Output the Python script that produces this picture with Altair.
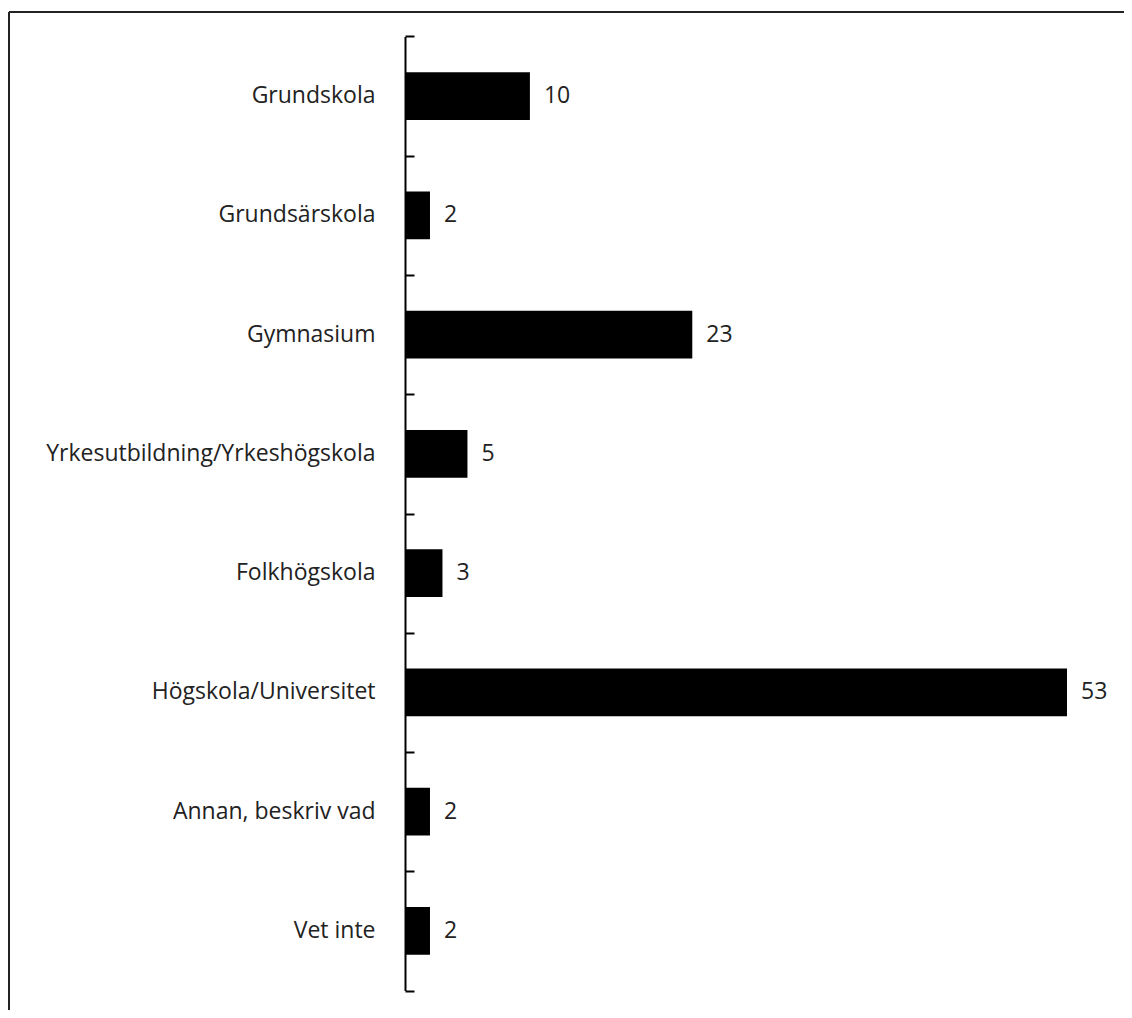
import altair as alt
import pandas as pd

categories = [
    "Grundskola",
    "Grundsärskola",
    "Gymnasium",
    "Yrkesutbildning/Yrkeshögskola",
    "Folkhögskola",
    "Högskola/Universitet",
    "Annan, beskriv vad",
    "Vet inte",
]
values = [10, 2, 23, 5, 3, 53, 2, 2]

df = pd.DataFrame({"cat": categories, "value": values})

FONT = "Open Sans"
TXT = "#222222"
HALF_STEP = 954 / 8 / 2

yscale = alt.Scale(domain=categories, range=[24.5, 978.5], paddingInner=0.6, paddingOuter=0.3)
xscale = alt.Scale(domain=[0, 53], range=[396, 1058], nice=False, zero=True)

base = alt.Chart(df)

bars = base.mark_bar(color="black").encode(
    y=alt.Y("cat:N", scale=yscale, sort=categories,
            axis=alt.Axis(orient="left", offset=-396, title=None, domain=True,
                          domainColor="black", domainWidth=2, ticks=False, tickSize=0,
                          labelPadding=30, labelFont=FONT, labelFontSize=23,
                          labelColor=TXT, labelLimit=500)),
    x=alt.X("value:Q", scale=xscale, axis=None),
)

texts = base.mark_text(align="left", baseline="middle", dx=14, font=FONT,
                       fontSize=23, color=TXT).encode(
    y=alt.Y("cat:N", scale=yscale, sort=categories,
            axis=alt.Axis(orient="left", offset=-405, title=None, domain=False,
                          ticks=True, tickSize=9, tickWidth=2, tickColor="black",
                          tickOffset=-HALF_STEP, labels=False, grid=False)),
    x=alt.X("value:Q", scale=xscale, axis=None),
    text=alt.Text("value:Q"),
)

last_tick = base.mark_point(opacity=0).encode(
    y=alt.Y("cat:N", scale=yscale, sort=categories,
            axis=alt.Axis(orient="left", offset=-405, title=None, domain=False,
                          values=[categories[-1]],
                          ticks=True, tickSize=9, tickWidth=2, tickColor="black",
                          tickOffset=HALF_STEP, labels=False, grid=False)),
    x=alt.X("value:Q", scale=xscale, axis=None),
)

frame_top = alt.Chart(df).mark_rule(color="#222222", strokeWidth=2).encode(
    x=alt.value(0), x2=alt.value(1115), y=alt.value(0)
)
frame_left = alt.Chart(df).mark_rule(color="#222222", strokeWidth=2).encode(
    x=alt.value(0), y=alt.value(0), y2=alt.value(998)
)

chart = alt.layer(frame_top, frame_left, bars, texts, last_tick).resolve_axis(
    y="independent"
).properties(
    width=1115, height=998,
    padding={"left": 1, "top": 4, "right": 0, "bottom": 0},
    autosize=alt.AutoSizeParams(type="none"),
).configure_view(stroke=None)

chart.save("out.html", embed_options={"renderer": "svg", "actions": False})
